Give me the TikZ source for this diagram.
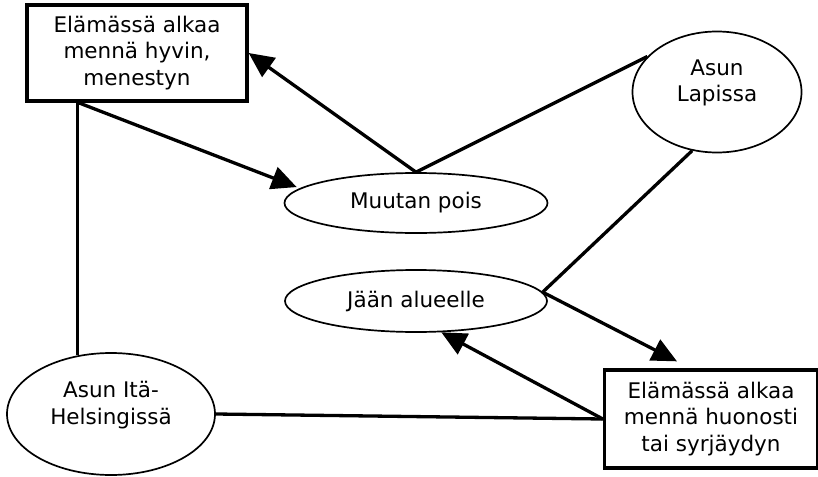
\documentclass[tikz,border=0pt]{standalone}
\usepackage{fontspec}
\setmainfont{DejaVu Sans}
\usetikzlibrary{arrows.meta,shapes.geometric}

\begin{document}
\begin{tikzpicture}[x=1pt,y=-1pt,line width=3.3pt,>={Triangle[length=25pt,width=23pt]}]
      \tikzstyle{every node}=[font=\fontsize{21.5}{26.5}\selectfont,align=center,inner sep=0pt]
      \tikzstyle{event}=[draw,rectangle,line width=3.3pt]
      \tikzstyle{place}=[draw,ellipse,line width=1.7pt]
      \tikzstyle{action}=[place]
      \tikzstyle{high text}=[align=center,yshift=9pt]

      \useasboundingbox (0,0) rectangle (818,476);

      % Draw the life events
      \node[event,minimum width=220pt,minimum height=96pt] (hyvin) at (137,53)
          {Elämässä alkaa\\mennä hyvin,\\menestyn};
      \node[event,minimum width=213pt,minimum height=98pt] (huono) at (711,419)
          {Elämässä alkaa\\mennä huonosti\\tai syrjäydyn};

      % Draw the places
      \node[place,minimum width=169pt,minimum height=121pt,
          label={[high text]center:Asun\\Lapissa}] (lappi) at (717,92) {};
      \node[place,minimum width=208pt,minimum height=122pt,
          label={[high text]center:Asun Itä-\\Helsingissä}] (ita) at (111,414) {};

      % Draw the choices
      \node[action,minimum width=263pt,minimum height=60pt] (muutto) at (416,203) {Muutan pois};
      \node[action,minimum width=262pt,minimum height=62pt] (jaa) at (416,301) {Jään alueelle};

      % Connect the places with the events
      \draw (ita.120) -- (ita.120 |- hyvin.south);
      \draw (ita.east) -- (huono.west);
      \draw (muutto.north) -- (lappi.153);
      \draw (lappi.247) -- (jaa.4);

      % Arrows between the events and the choices
      \draw[->] ([xshift=53pt]hyvin.south west) -- ([xshift=-6pt]muutto.172);
      \draw[->] (muutto.north) -- (hyvin.east);
      \draw[->] (jaa.4) -- ([xshift=-34pt,yshift=7pt]huono.north);
      \draw[->] (huono.west) -- (jaa.309);
  \end{tikzpicture}
\end{document}
